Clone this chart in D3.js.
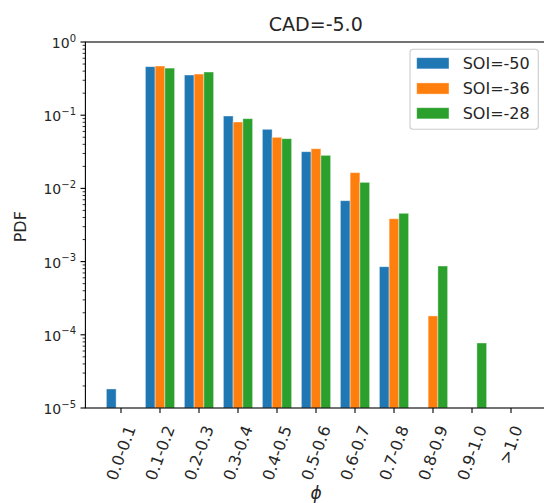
<!DOCTYPE html>
<html>
<head>
<meta charset="utf-8">
<script src="https://cdn.jsdelivr.net/npm/d3@7"></script>
<style>
html,body{margin:0;padding:0;background:#fff;}
svg{display:block;font-family:"DejaVu Sans",sans-serif;}
</style>
</head>
<body>
<svg id="chart" width="544" height="503"></svg>
<script>
const categories = ["0.0-0.1","0.1-0.2","0.2-0.3","0.3-0.4","0.4-0.5","0.5-0.6","0.6-0.7","0.7-0.8","0.8-0.9","0.9-1.0",">1.0"];
const seriesNames = ["SOI=-50","SOI=-36","SOI=-28"];
const seriesColors = ["#1f77b4","#ff7f0e","#2ca02c"];
const soiM50 = [1.82e-5, 0.46, 0.354, 0.0975, 0.0642, 0.0317, 0.00679, 0.000851, null, null, null];
const soiM36 = [null, 0.47, 0.365, 0.0807, 0.0499, 0.0348, 0.0164, 0.00385, 0.000181, null, null];
const soiM28 = [null, 0.44, 0.389, 0.0896, 0.0478, 0.0283, 0.0121, 0.00457, 0.000871, 0.0000773, null];
const yTickValues = [1e-5, 1e-4, 1e-3, 1e-2, 1e-1, 1e0];
const yTickExps = ["−5","−4","−3","−2","−1","0"];
const title = "CAD=-5.0";
const xLabel = "ϕ";
const yLabel = "PDF";

const series = [soiM50, soiM36, soiM28];

const svg = d3.select("#chart");
const L = 85.4, R = 546.6, T = 42, B = 408;

const x = d3.scalePoint().domain(categories).range([L, R]).padding(0.9125);
const y = d3.scaleLog().domain([1e-5, 1]).range([B, T]);
const step = x.step();
const bw = step * 0.25;

// bars
const barG = svg.append("g");
series.forEach((vals, j) => {
  barG.selectAll(null)
    .data(categories.map((c, i) => ({c, v: vals[i]})).filter(d => d.v != null))
    .enter().append("rect")
    .attr("x", d => x(d.c) + (j - 1.5) * bw)
    .attr("width", bw)
    .attr("y", d => y(d.v))
    .attr("height", d => B - y(d.v))
    .attr("fill", seriesColors[j])
    .attr("stroke", "#ffffff")
    .attr("stroke-opacity", 0.5)
    .attr("stroke-width", 0.8);
});

// spines
svg.append("rect").attr("x", L).attr("y", T).attr("width", R - L).attr("height", B - T)
  .attr("fill", "none").attr("stroke", "#000").attr("stroke-width", 1.1);

// y ticks
const yAx = svg.append("g");
const minors = [];
for (let e = -5; e < 0; e++) for (let m = 2; m <= 9; m++) minors.push(m * Math.pow(10, e));
yAx.selectAll(null).data(minors).enter().append("line")
  .attr("x1", L).attr("x2", L - 2.8).attr("y1", d => y(d)).attr("y2", d => y(d))
  .attr("stroke", "#000").attr("stroke-width", 0.8);
yAx.selectAll(null).data(yTickValues).enter().append("line")
  .attr("x1", L).attr("x2", L - 4.9).attr("y1", d => y(d)).attr("y2", d => y(d))
  .attr("stroke", "#000").attr("stroke-width", 1.1);
yTickValues.forEach((v, i) => {
  const t = yAx.append("text").attr("x", 76).attr("y", y(v) + 6)
    .attr("text-anchor", "end").attr("font-size", 14).attr("fill", "#262626");
  t.append("tspan").text("10");
  t.append("tspan").attr("font-size", 10).attr("dy", -6.5).text(yTickExps[i]);
});

// x ticks
const xAx = svg.append("g");
xAx.selectAll(null).data(categories).enter().append("line")
  .attr("x1", d => x(d)).attr("x2", d => x(d)).attr("y1", B).attr("y2", B + 4.9)
  .attr("stroke", "#000").attr("stroke-width", 1.1);
categories.forEach(c => {
  const g = xAx.append("g");
  const t = g.append("text").attr("font-size", 16).attr("fill", "#262626")
    .attr("text-anchor", "middle").attr("dy", "0.35em")
    .attr("transform", "rotate(-70)").text(c);
  const r = t.node().getBoundingClientRect();
  const cx = r.left + r.width / 2, top = r.top;
  g.attr("transform", `translate(${x(c) - cx},${423 - top})`);
});

// labels
svg.append("text").attr("x", 315.8).attr("y", 30.5).attr("text-anchor", "middle")
  .attr("font-size", 19).attr("fill", "#262626").text(title);
svg.append("text").attr("x", 316).attr("y", 499).attr("text-anchor", "middle")
  .attr("font-size", 17).attr("font-style", "italic").attr("fill", "#262626").text(xLabel);
svg.append("text").attr("transform", "translate(25.5,226.7) rotate(-90)")
  .attr("text-anchor", "middle").attr("font-size", 16).attr("fill", "#262626").text(yLabel);

// legend
const lg = svg.append("g");
lg.append("rect").attr("x", 410).attr("y", 49.3).attr("width", 128.3).attr("height", 80)
  .attr("rx", 3).attr("fill", "#fff").attr("fill-opacity", 0.8)
  .attr("stroke", "#cccccc").attr("stroke-width", 1.1);
const rowY = [63.3, 88.5, 113.3];
seriesNames.forEach((n, j) => {
  lg.append("rect").attr("x", 416.7).attr("y", rowY[j] - 5.6).attr("width", 32.3).attr("height", 11.2)
    .attr("fill", seriesColors[j]).attr("stroke", "#fff").attr("stroke-opacity", 0.5).attr("stroke-width", 0.8);
  lg.append("text").attr("x", 462.7).attr("y", rowY[j] + 5.8).attr("font-size", 16)
    .attr("fill", "#262626").text(n);
});
</script>
</body>
</html>
